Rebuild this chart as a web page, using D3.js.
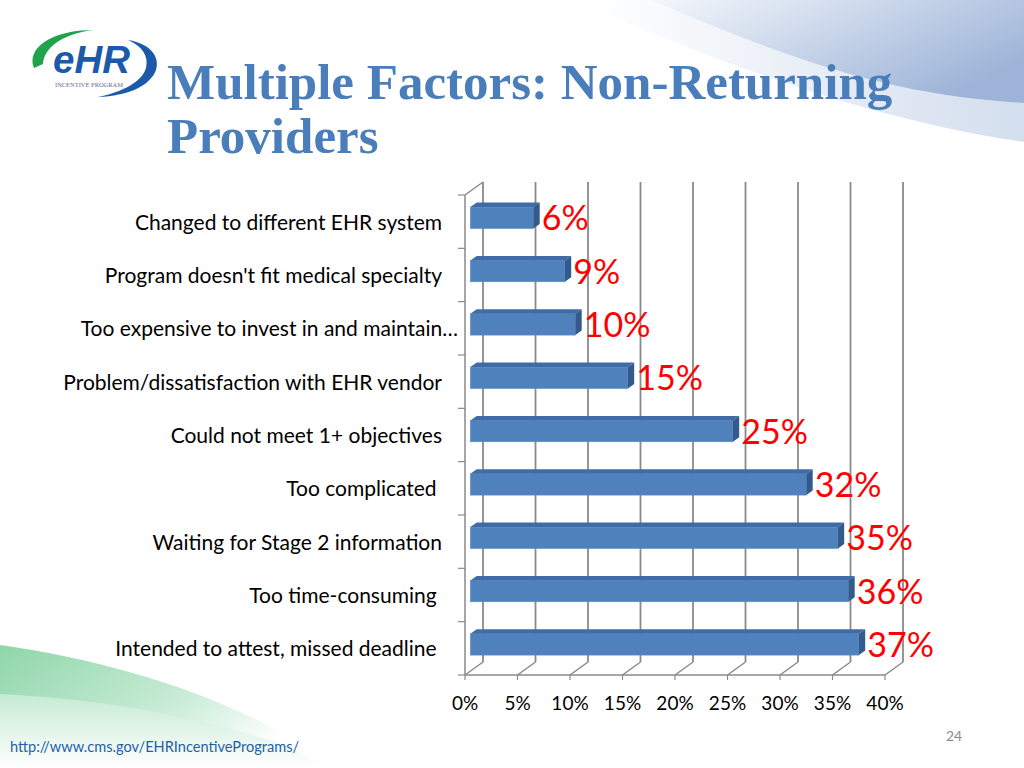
<!DOCTYPE html>
<html>
<head>
<meta charset="utf-8">
<script src="https://cdn.jsdelivr.net/npm/d3@7/dist/d3.min.js"></script>
<style>
    body { margin: 0; background: #fff; }
    svg { display: block; }
    .cat { white-space: pre; }
</style>
</head>
<body>
<div id="chartArea"></div>
<script>
var categories = [
    'Changed to different EHR system',
    "Program doesn't fit medical specialty",
    'Too expensive to invest in and maintain\u2026',
    'Problem/dissatisfaction with EHR vendor',
    'Could not meet 1+ objectives',
    'Too complicated ',
    'Waiting for Stage 2 information',
    'Too time-consuming ',
    'Intended to attest, missed deadline '
];
var values = [0.06, 0.09, 0.10, 0.15, 0.25, 0.32, 0.35, 0.36, 0.37];
var tickValues = [0, 0.05, 0.10, 0.15, 0.20, 0.25, 0.30, 0.35, 0.40];
var titleLines = ['Multiple Factors: Non-Returning', 'Providers'];

var w = 1024, h = 768;
// 3d depth offset of the chart box and where the bars sit inside it
var depth = { dx: 18, dy: -13 };
var barFront = 0.3, barBack = 0.65;

var svg = d3.select('#chartArea').append('svg')
    .attr('width', w)
    .attr('height', h);

var defs = svg.append('defs');

var blueSwoosh = defs.append('linearGradient')
    .attr('id', 'blueSwoosh')
    .attr('x1', '0').attr('y1', '0').attr('x2', '1').attr('y2', '0.6');
blueSwoosh.append('stop').attr('offset', '0%').attr('stop-color', '#f4f7fb');
blueSwoosh.append('stop').attr('offset', '100%').attr('stop-color', '#9db4d8');

var blueBand = defs.append('linearGradient')
    .attr('id', 'blueBand')
    .attr('x1', '0').attr('y1', '0').attr('x2', '1').attr('y2', '0');
blueBand.append('stop').attr('offset', '0%').attr('stop-color', '#ffffff');
blueBand.append('stop').attr('offset', '100%').attr('stop-color', '#d3deee');

var greenSwoosh = defs.append('linearGradient')
    .attr('id', 'greenSwoosh')
    .attr('x1', '0').attr('y1', '0').attr('x2', '1').attr('y2', '0.5');
greenSwoosh.append('stop').attr('offset', '0%').attr('stop-color', '#8fd6aa');
greenSwoosh.append('stop').attr('offset', '60%').attr('stop-color', '#c6ebd4');
greenSwoosh.append('stop').attr('offset', '100%').attr('stop-color', '#ffffff');

var greenFade = defs.append('linearGradient')
    .attr('id', 'greenFade')
    .attr('x1', '0').attr('y1', '0').attr('x2', '0').attr('y2', '1');
greenFade.append('stop').attr('offset', '0%').attr('stop-color', '#b5e4c6');
greenFade.append('stop').attr('offset', '100%').attr('stop-color', '#ffffff');

// background swooshes
svg.append('path')
    .attr('d', 'M590,6 C700,55 860,118 1024,142 L1024,103 C870,95 760,45 650,0 L590,0 Z')
    .attr('fill', 'url(#blueBand)');
svg.append('path')
    .attr('d', 'M650,0 C760,45 870,95 1024,103 L1024,0 Z')
    .attr('fill', 'url(#blueSwoosh)');

svg.append('path')
    .attr('d', 'M0,672 C120,684 230,712 320,764 L0,768 Z')
    .attr('fill', 'url(#greenFade)');
svg.append('path')
    .attr('d', 'M0,645 C120,662 240,700 330,762 C230,722 120,700 0,694 Z')
    .attr('fill', 'url(#greenSwoosh)');

// logo
var logo = svg.append('g').attr('class', 'logo');
logo.append('path')
    .attr('d', 'M34,68 C26,48 52,30 93,30 C62,34 44,48 43,64 Z')
    .attr('fill', '#22a24b');
logo.append('path')
    .attr('d', 'M128,40 C152,44 160,58 156,70 C150,86 128,96 98,97 C122,92 142,82 146,68 C149,56 142,46 128,40 Z')
    .attr('fill', '#1b5aaa');
logo.append('text')
    .attr('x', 53)
    .attr('y', 73)
    .attr('textLength', 77)
    .attr('lengthAdjust', 'spacingAndGlyphs')
    .style('font-family', 'Liberation Sans, Arial, sans-serif')
    .style('font-weight', 'bold')
    .style('font-style', 'italic')
    .style('font-size', '39px')
    .attr('fill', '#1b5aaa')
    .text('eHR');
logo.append('text')
    .attr('x', 55)
    .attr('y', 87)
    .attr('textLength', 68)
    .attr('lengthAdjust', 'spacingAndGlyphs')
    .style('font-family', 'Liberation Serif, serif')
    .style('font-size', '5.5px')
    .attr('fill', '#5b6b96')
    .text('INCENTIVE PROGRAM');

// title
svg.append('g').selectAll('text')
    .data(titleLines)
    .enter()
    .append('text')
    .attr('x', 167)
    .attr('y', function(d, i) { return 99 + i * 54; })
    .style('font-family', 'Liberation Serif, Times New Roman, serif')
    .style('font-weight', 'bold')
    .style('font-size', '51px')
    .attr('fill', '#4a7ebb')
    .text(function(d) { return d; });

// scales
var xScale = d3.scaleLinear()
    .domain([0, 0.4])
    .range([465, 885]);

var yScale = d3.scaleBand()
    .domain(categories)
    .range([195, 675]);

var chart = svg.append('g').attr('class', 'chart');
var gridColor = '#8a8a8a';

// back wall gridlines
chart.selectAll('line.grid')
    .data(tickValues)
    .enter()
    .append('line')
    .attr('class', 'grid')
    .attr('x1', function(d) { return xScale(d) + depth.dx; })
    .attr('x2', function(d) { return xScale(d) + depth.dx; })
    .attr('y1', yScale.range()[0] + depth.dy)
    .attr('y2', yScale.range()[1] + depth.dy)
    .attr('stroke', gridColor)
    .attr('stroke-width', 1.8);

// floor diagonals
chart.selectAll('line.floor')
    .data(tickValues)
    .enter()
    .append('line')
    .attr('class', 'floor')
    .attr('x1', function(d) { return xScale(d); })
    .attr('x2', function(d) { return xScale(d) + depth.dx; })
    .attr('y1', yScale.range()[1])
    .attr('y2', yScale.range()[1] + depth.dy)
    .attr('stroke', gridColor)
    .attr('stroke-width', 1.5);

// left wall edges
chart.append('line')
    .attr('x1', xScale(0)).attr('x2', xScale(0))
    .attr('y1', yScale.range()[0]).attr('y2', yScale.range()[1])
    .attr('stroke', gridColor).attr('stroke-width', 1.5);
chart.append('line')
    .attr('x1', xScale(0)).attr('x2', xScale(0) + depth.dx)
    .attr('y1', yScale.range()[0]).attr('y2', yScale.range()[0] + depth.dy)
    .attr('stroke', gridColor).attr('stroke-width', 1.5);

// front floor edge
chart.append('line')
    .attr('x1', xScale(0)).attr('x2', xScale(0.4))
    .attr('y1', yScale.range()[1]).attr('y2', yScale.range()[1])
    .attr('stroke', gridColor).attr('stroke-width', 1.5);

// category ticks
var boundaries = categories.map(function(c) { return yScale(c); }).concat([yScale.range()[1]]);
chart.selectAll('line.ytick')
    .data(boundaries)
    .enter()
    .append('line')
    .attr('class', 'ytick')
    .attr('x1', xScale(0) - 7).attr('x2', xScale(0))
    .attr('y1', function(d) { return d; })
    .attr('y2', function(d) { return d; })
    .attr('stroke', gridColor).attr('stroke-width', 1.2);

// value ticks under the floor
chart.selectAll('line.xtick')
    .data(tickValues)
    .enter()
    .append('line')
    .attr('class', 'xtick')
    .attr('x1', function(d) { return xScale(d); })
    .attr('x2', function(d) { return xScale(d); })
    .attr('y1', yScale.range()[1])
    .attr('y2', yScale.range()[1] + 5)
    .attr('stroke', gridColor).attr('stroke-width', 1.2);

// tick labels
chart.selectAll('text.xlabel')
    .data(tickValues)
    .enter()
    .append('text')
    .attr('class', 'xlabel')
    .attr('x', function(d) { return xScale(d); })
    .attr('y', 710)
    .attr('text-anchor', 'middle')
    .style('font-family', 'Lato, sans-serif')
    .style('font-size', '19px')
    .attr('fill', '#000')
    .text(d3.format('.0%'));

// category labels
chart.selectAll('text.cat')
    .data(categories)
    .enter()
    .append('text')
    .attr('class', 'cat')
    .attr('x', function(d) { return d.slice(-1) === '\u2026' ? 458 : 442; })
    .attr('y', function(d) { return yScale(d) + yScale.bandwidth() / 2 + 8; })
    .attr('text-anchor', 'end')
    .style('font-family', 'Lato, sans-serif')
    .style('font-size', '21px')
    .attr('fill', '#000')
    .text(function(d) { return d; });

// bars
var barH = yScale.bandwidth() * 0.4;
var ddx = depth.dx * (barBack - barFront),
    ddy = depth.dy * (barBack - barFront);

var bars = chart.selectAll('g.bar')
    .data(values.map(function(v, i) { return { cat: categories[i], v: v }; }))
    .enter()
    .append('g')
    .attr('class', 'bar')
    .attr('transform', function(d) {
        var x0 = xScale(0) + depth.dx * barFront;
        var y0 = yScale(d.cat) + yScale.bandwidth() / 2 - barH / 2 + depth.dy * barFront;
        return 'translate(' + x0 + ',' + y0 + ')';
    });

bars.append('rect')
    .attr('x', 0)
    .attr('y', 0)
    .attr('width', function(d) { return xScale(d.v) - xScale(0); })
    .attr('height', barH)
    .attr('fill', '#4f81bd')
    .attr('stroke', '#5a8ac4')
    .attr('stroke-width', 0.6);

bars.append('path')
    .attr('d', function(d) {
        var bw = xScale(d.v) - xScale(0);
        return 'M0,0 L' + bw + ',0 L' + (bw + ddx) + ',' + ddy + ' L' + ddx + ',' + ddy + ' Z';
    })
    .attr('fill', '#3f6ca6');

bars.append('path')
    .attr('d', function(d) {
        var bw = xScale(d.v) - xScale(0);
        return 'M' + bw + ',0 L' + (bw + ddx) + ',' + ddy + ' L' + (bw + ddx) + ',' + (barH + ddy) +
            ' L' + bw + ',' + barH + ' Z';
    })
    .attr('fill', '#325a8c');

bars.append('text')
    .attr('x', function(d) { return xScale(d.v) - xScale(0) + ddx + 2; })
    .attr('y', barH / 2 + 12.5)
    .style('font-family', 'Lato, sans-serif')
    .style('font-size', '34px')
    .attr('fill', '#ff0000')
    .text(function(d) { return d3.format('.0%')(d.v); });

// footer
svg.append('text')
    .attr('x', 10)
    .attr('y', 752)
    .style('font-family', 'Lato, sans-serif')
    .style('font-size', '14.6px')
    .attr('fill', '#1f5fa8')
    .text('http://www.cms.gov/EHRIncentivePrograms/');

svg.append('text')
    .attr('x', 954)
    .attr('y', 741)
    .attr('text-anchor', 'middle')
    .style('font-family', 'Lato, sans-serif')
    .style('font-size', '14px')
    .attr('fill', '#8c8c8c')
    .text('24');
</script>
</body>
</html>
